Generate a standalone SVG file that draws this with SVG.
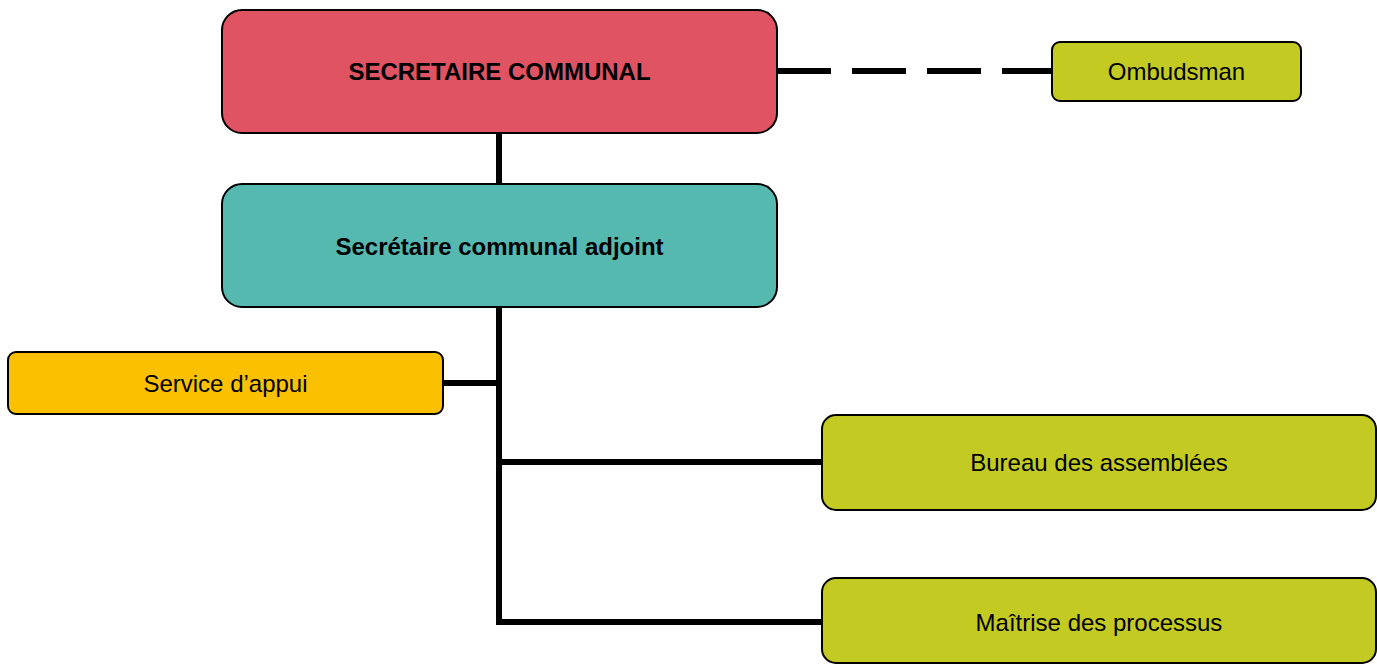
<svg xmlns="http://www.w3.org/2000/svg" width="1377" height="665" viewBox="0 0 1377 665">
<style>
.node{stroke:#000;stroke-width:2}
.lbl{font-family:"Liberation Sans",Arial,sans-serif;font-size:24px;fill:#000;text-anchor:middle}
.b{font-weight:bold}
.conn{stroke:#000;stroke-width:6;fill:none}
.dash{stroke-dasharray:54 21}
</style>
<rect width="1377" height="665" fill="#fff"/>
<g id="connectors">
<line class="conn" x1="499" y1="133" x2="499" y2="184"/>
<polyline class="conn" points="499,307 499,622 822,622"/>
<line class="conn" x1="443" y1="383" x2="499" y2="383"/>
<line class="conn" x1="499" y1="462" x2="822" y2="462"/>
<line class="conn dash" x1="777" y1="71" x2="1052" y2="71"/>
</g>
<g id="secretaire">
<rect class="node" x="222" y="10" width="555" height="123" rx="20" fill="#E05362"/>
<text class="lbl b" x="499.5" y="80">SECRETAIRE COMMUNAL</text>
</g>
<g id="adjoint">
<rect class="node" x="222" y="184" width="555" height="123" rx="20" fill="#55B9AF"/>
<text class="lbl b" x="499.5" y="255">Secrétaire communal adjoint</text>
</g>
<g id="ombudsman">
<rect class="node" x="1052" y="42" width="249" height="59" rx="8" fill="#C3CB23"/>
<text class="lbl" x="1176.5" y="80">Ombudsman</text>
</g>
<g id="service">
<rect class="node" x="8" y="352" width="435" height="62" rx="8" fill="#FBC100"/>
<text class="lbl" x="225.5" y="392">Service d’appui</text>
</g>
<g id="bureau">
<rect class="node" x="822" y="415" width="554" height="95" rx="14" fill="#C3CB23"/>
<text class="lbl" x="1099" y="471">Bureau des assemblées</text>
</g>
<g id="maitrise">
<rect class="node" x="822" y="578" width="554" height="85" rx="14" fill="#C3CB23"/>
<text class="lbl" x="1099" y="631">Maîtrise des processus</text>
</g>
</svg>
